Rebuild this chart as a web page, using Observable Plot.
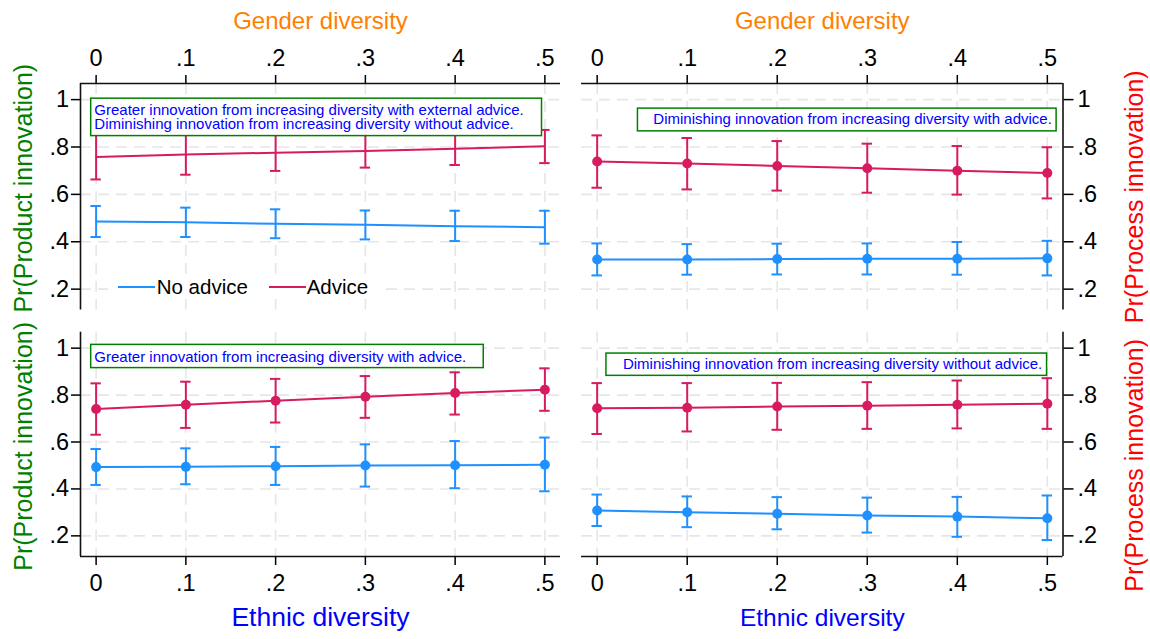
<!DOCTYPE html>
<html>
<head>
<meta charset="utf-8">
<script src="https://cdn.jsdelivr.net/npm/d3@7"></script>
<script src="https://cdn.jsdelivr.net/npm/@observablehq/plot@0.6"></script>
<style>
  body { margin: 0; background: #fff; }
  #chart { position: relative; width: 1150px; height: 639px; font-family: "Liberation Sans", Arial, Helvetica, sans-serif; }
  #chart svg { position: absolute; left: 0; top: 0; }
  .legend { position: absolute; left: 108px; top: 275px; width: 272px; height: 24px; background: #fff; font-size: 20.5px; color: #000; }
  .legend .sw { position: absolute; top: 11px; width: 37px; height: 2px; }
  .legend .lb { position: absolute; top: 0; line-height: 24px; white-space: nowrap; }
</style>
</head>
<body>
<div id="chart"></div>
<script>
// Predicted probabilities of innovation by team diversity, with and without external advice
const diversityLevels = [0, 0.1, 0.2, 0.3, 0.4, 0.5];
const diversityTickLabels = ["0", ".1", ".2", ".3", ".4", ".5"];
const probabilityTicks = [0.2, 0.4, 0.6, 0.8, 1];
const probabilityTickLabels = [".2", ".4", ".6", ".8", "1"];
const adviceGroups = ["No advice", "Advice"];

// Gender diversity -> product innovation
const genderProductNoAdvice = [0.486, 0.482, 0.476, 0.472, 0.466, 0.461];
const genderProductNoAdviceLo = [0.420, 0.420, 0.415, 0.410, 0.403, 0.392];
const genderProductNoAdviceHi = [0.551, 0.544, 0.537, 0.532, 0.531, 0.531];
const genderProductAdvice = [0.758, 0.768, 0.776, 0.783, 0.793, 0.803];
const genderProductAdviceLo = [0.663, 0.683, 0.699, 0.713, 0.724, 0.732];
const genderProductAdviceHi = [0.853, 0.853, 0.853, 0.853, 0.862, 0.872];

// Gender diversity -> process innovation
const genderProcessNoAdvice = [0.325, 0.325, 0.327, 0.328, 0.328, 0.330];
const genderProcessNoAdviceLo = [0.258, 0.261, 0.262, 0.262, 0.261, 0.258];
const genderProcessNoAdviceHi = [0.393, 0.390, 0.392, 0.393, 0.399, 0.404];
const genderProcessAdvice = [0.739, 0.730, 0.720, 0.710, 0.700, 0.690];
const genderProcessAdviceLo = [0.628, 0.621, 0.616, 0.607, 0.599, 0.583];
const genderProcessAdviceHi = [0.849, 0.838, 0.825, 0.814, 0.804, 0.799];

// Ethnic diversity -> product innovation
const ethnicProductNoAdvice = [0.493, 0.494, 0.497, 0.500, 0.501, 0.503];
const ethnicProductNoAdviceLo = [0.417, 0.420, 0.417, 0.410, 0.403, 0.390];
const ethnicProductNoAdviceHi = [0.570, 0.573, 0.579, 0.590, 0.604, 0.619];
const ethnicProductAdvice = [0.741, 0.759, 0.776, 0.793, 0.809, 0.823];
const ethnicProductAdviceLo = [0.631, 0.660, 0.683, 0.703, 0.717, 0.733];
const ethnicProductAdviceHi = [0.850, 0.857, 0.869, 0.881, 0.897, 0.914];

// Ethnic diversity -> process innovation
const ethnicProcessNoAdvice = [0.308, 0.301, 0.294, 0.287, 0.282, 0.275];
const ethnicProcessNoAdviceLo = [0.242, 0.237, 0.228, 0.214, 0.196, 0.182];
const ethnicProcessNoAdviceHi = [0.376, 0.368, 0.365, 0.363, 0.366, 0.372];
const ethnicProcessAdvice = [0.744, 0.746, 0.751, 0.755, 0.759, 0.763];
const ethnicProcessAdviceLo = [0.634, 0.645, 0.652, 0.656, 0.658, 0.656];
const ethnicProcessAdviceHi = [0.851, 0.851, 0.852, 0.855, 0.862, 0.872];

// Panel notes
const noteGenderProduct = ["Greater innovation from increasing diversity with external advice.",
                           "Diminishing innovation from increasing diversity without advice."];
const noteGenderProcess = ["Diminishing innovation from increasing diversity with advice."];
const noteEthnicProduct = ["Greater innovation from increasing diversity with advice."];
const noteEthnicProcess = ["Diminishing innovation from increasing diversity without advice."];

// ---- styling ----
const groupColors = ["#1E90FF", "#D81B60"];
const fontFamily = '"Liberation Sans", Arial, Helvetica, sans-serif';
const xDomain = [-0.0174, 0.5174];
const yDomain = [0.112, 1.068];
const capHalfWidth = 0.0058;
const gridStyle = {stroke: "#e6e6e6", strokeOpacity: 1, strokeWidth: 1.6, strokeDasharray: "11,7"};
const axisLine = {stroke: "#111", strokeWidth: 1.6};
const xFmt = new Map(diversityLevels.map((d, i) => [d, diversityTickLabels[i]]));
const yFmt = new Map(probabilityTicks.map((d, i) => [d, probabilityTickLabels[i]]));

function series(est, lo, hi, group) {
  return diversityLevels.map((x, i) => ({x, est: est[i], lo: lo[i], hi: hi[i], group}));
}

function drawPanel(p) {
  const rows = p.rows;
  const marks = [
    Plot.gridX(diversityLevels, gridStyle),
    Plot.gridY(probabilityTicks, gridStyle),
    Plot.line(rows, {x: "x", y: "est", z: "group", stroke: "group", strokeWidth: 2}),
    Plot.ruleX(rows, {x: "x", y1: "lo", y2: "hi", stroke: "group", strokeWidth: 2}),
    Plot.ruleY(rows, {y: "lo", x1: d => d.x - capHalfWidth, x2: d => d.x + capHalfWidth, stroke: "group", strokeWidth: 2}),
    Plot.ruleY(rows, {y: "hi", x1: d => d.x - capHalfWidth, x2: d => d.x + capHalfWidth, stroke: "group", strokeWidth: 2})
  ];
  if (p.markers) marks.push(Plot.dot(rows, {x: "x", y: "est", fill: "group", r: 5}));

  // annotation box
  const b = p.box;
  marks.push(Plot.rect([b], {x1: b.x1, x2: b.x2, y1: b.y1, y2: b.y2, fill: "white", stroke: "#008000", strokeWidth: 1.5}));
  marks.push(Plot.text(p.noteLines.map((t, i) => ({t, y: b.baselines[i]})), {
    x: b.textX, y: "y", text: "t", textAnchor: b.anchor, lineAnchor: "bottom",
    fill: "#0000FF", fontSize: 15
  }));

  // horizontal axis
  if (p.xAxis === "top") {
    marks.push(Plot.ruleY([yDomain[1]], axisLine));
    marks.push(Plot.axisX(diversityLevels, {anchor: "top", tickSize: 9, tickPadding: 9, strokeWidth: 1.5, tickFormat: d => xFmt.get(d), label: null}));
    marks.push(Plot.text([p.xTitle], {text: d => d, frameAnchor: "top", textAnchor: "middle", dy: -54.5, lineAnchor: "bottom", fontSize: p.xTitleSize, fill: "#FF8000"}));
  } else {
    marks.push(Plot.ruleY([yDomain[0]], axisLine));
    marks.push(Plot.axisX(diversityLevels, {anchor: "bottom", tickSize: 9, tickPadding: 9, strokeWidth: 1.5, tickFormat: d => xFmt.get(d), label: null}));
    marks.push(Plot.text([p.xTitle], {text: d => d, frameAnchor: "bottom", textAnchor: "middle", dy: 69, lineAnchor: "bottom", fontSize: p.xTitleSize, fill: "#0000FF"}));
  }

  // vertical axis
  if (p.yAxis === "left") {
    marks.push(Plot.ruleX([xDomain[0]], axisLine));
    marks.push(Plot.axisY(probabilityTicks, {anchor: "left", tickSize: 9, tickPadding: 2.5, strokeWidth: 1.5, tickFormat: d => yFmt.get(d), label: null}));
    marks.push(Plot.text([p.yTitle], {text: d => d, frameAnchor: "left", textAnchor: "middle", dx: -48.5, dy: p.yTitleShift, rotate: -90, lineAnchor: "bottom", fontSize: 25, fill: "#008000"}));
  } else {
    marks.push(Plot.ruleX([xDomain[1]], axisLine));
    marks.push(Plot.axisY(probabilityTicks, {anchor: "right", tickSize: 10, tickPadding: 4.5, strokeWidth: 1.5, tickFormat: d => yFmt.get(d), label: null}));
    marks.push(Plot.text([p.yTitle], {text: d => d, frameAnchor: "right", textAnchor: "middle", dx: 79.5, dy: p.yTitleShift, rotate: -90, lineAnchor: "bottom", fontSize: 25, fill: "#FF0000"}));
  }

  const svg = Plot.plot({
    width: 1150,
    height: 639,
    marginTop: p.margin[0],
    marginRight: p.margin[1],
    marginBottom: p.margin[2],
    marginLeft: p.margin[3],
    style: {background: "transparent", fontSize: "23.5px", fontFamily, color: "#000", overflow: "visible"},
    x: {domain: xDomain},
    y: {domain: yDomain},
    color: {domain: adviceGroups, range: groupColors},
    marks
  });
  return svg;
}

const panels = [
  {
    rows: [...series(genderProductNoAdvice, genderProductNoAdviceLo, genderProductNoAdviceHi, adviceGroups[0]),
           ...series(genderProductAdvice, genderProductAdviceLo, genderProductAdviceHi, adviceGroups[1])],
    markers: false,
    margin: [83, 590, 329.5, 80],
    xAxis: "top", xTitle: "Gender diversity", xTitleSize: 24,
    yAxis: "left", yTitle: "Pr(Product innovation)", yTitleShift: -8.5,
    noteLines: noteGenderProduct,
    box: {x1: -0.0055, x2: 0.4968, y1: 0.846, y2: 1.004, textX: -0.002, anchor: "start", baselines: [0.9366, 0.8746]}
  },
  {
    rows: [...series(genderProcessNoAdvice, genderProcessNoAdviceLo, genderProcessNoAdviceHi, adviceGroups[0]),
           ...series(genderProcessAdvice, genderProcessAdviceLo, genderProcessAdviceHi, adviceGroups[1])],
    markers: true,
    margin: [83, 87.5, 329.5, 581],
    xAxis: "top", xTitle: "Gender diversity", xTitleSize: 24,
    yAxis: "right", yTitle: "Pr(Process innovation)", yTitleShift: 0,
    noteLines: noteGenderProcess,
    box: {x1: 0.0453, x2: 0.5103, y1: 0.866, y2: 0.962, textX: 0.505, anchor: "end", baselines: [0.8957]}
  },
  {
    rows: [...series(ethnicProductNoAdvice, ethnicProductNoAdviceLo, ethnicProductNoAdviceHi, adviceGroups[0]),
           ...series(ethnicProductAdvice, ethnicProductAdviceLo, ethnicProductAdviceHi, adviceGroups[1])],
    markers: true,
    margin: [331.7, 590, 83, 80],
    xAxis: "bottom", xTitle: "Ethnic diversity", xTitleSize: 26.5,
    yAxis: "left", yTitle: "Pr(Product innovation)", yTitleShift: 2,
    noteLines: noteEthnicProduct,
    box: {x1: -0.0055, x2: 0.4319, y1: 0.915, y2: 1.014, textX: -0.002, anchor: "start", baselines: [0.943]}
  },
  {
    rows: [...series(ethnicProcessNoAdvice, ethnicProcessNoAdviceLo, ethnicProcessNoAdviceHi, adviceGroups[0]),
           ...series(ethnicProcessAdvice, ethnicProcessAdviceLo, ethnicProcessAdviceHi, adviceGroups[1])],
    markers: true,
    margin: [331.7, 87.5, 83, 581],
    xAxis: "bottom", xTitle: "Ethnic diversity", xTitleSize: 24.5,
    yAxis: "right", yTitle: "Pr(Process innovation)", yTitleShift: 21,
    noteLines: noteEthnicProcess,
    box: {x1: 0.0103, x2: 0.4997, y1: 0.882, y2: 0.977, textX: 0.4944, anchor: "end", baselines: [0.911]}
  }
];

const chart = document.getElementById("chart");
for (const p of panels) chart.appendChild(drawPanel(p));

// Legend for the advice groups, placed inside the upper-left panel
const legend = document.createElement("div");
legend.className = "legend";
const legendItems = [{left: 10, textLeft: 48.7}, {left: 161, textLeft: 198.7}];
adviceGroups.forEach((g, i) => {
  const sw = document.createElement("span");
  sw.className = "sw";
  sw.style.left = legendItems[i].left + "px";
  sw.style.background = groupColors[i];
  const lb = document.createElement("span");
  lb.className = "lb";
  lb.style.left = legendItems[i].textLeft + "px";
  lb.textContent = g;
  legend.appendChild(sw);
  legend.appendChild(lb);
});
chart.appendChild(legend);
</script>
</body>
</html>
